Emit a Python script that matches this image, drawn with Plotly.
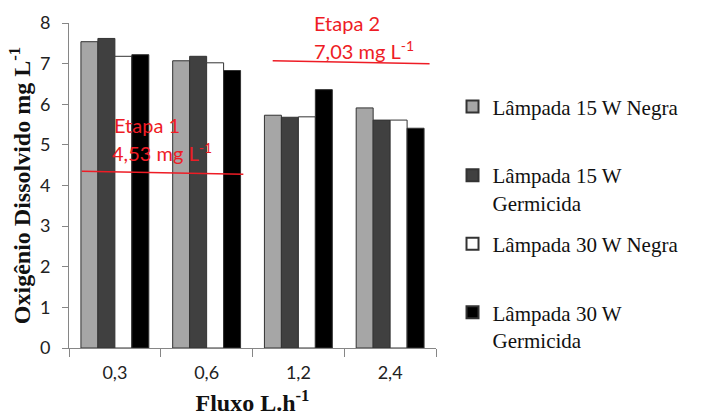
import plotly.graph_objects as go

categories = ["0,3", "0,6", "1,2", "2,4"]
series_names = [
    "Lâmpada 15 W Negra<br> ",
    "Lâmpada 15 W<br>Germicida",
    "Lâmpada 30 W Negra<br> ",
    "Lâmpada 30 W<br>Germicida",
]
neg15 = [7.54, 7.07, 5.73, 5.91]
germ15 = [7.62, 7.18, 5.68, 5.61]
neg30 = [7.18, 7.02, 5.69, 5.61]
germ30 = [7.22, 6.83, 6.36, 5.41]
series_values = [neg15, germ15, neg30, germ30]
colors = ["#A6A6A6", "#404040", "#FFFFFF", "#000000"]

etapa1_level = [4.35, 4.28]
etapa2_level = [7.07, 7.00]

fig = go.Figure()
for i, (name, vals, col) in enumerate(zip(series_names, series_values, colors)):
    fig.add_trace(go.Bar(
        x=categories, y=vals, name=name, legendgroup=str(i),
        marker=dict(color=col, line=dict(color="#333333", width=1)),
    ))

red = "#EE1C25"
fig.add_shape(type="line", xref="x", yref="y", x0=-0.36, x1=1.40,
              y0=etapa1_level[0], y1=etapa1_level[1], line=dict(color=red, width=1.5))
fig.add_shape(type="line", xref="x", yref="y", x0=1.72, x1=3.43,
              y0=etapa2_level[0], y1=etapa2_level[1], line=dict(color=red, width=1.5))

afont = dict(family="Lato, Open Sans, sans-serif", size=20, color=red)
fig.add_annotation(x=-0.03, y=5.5, xref="x", yref="y", text="Etapa 1", showarrow=False,
                   xanchor="left", yanchor="middle", font=afont)
fig.add_annotation(x=-0.05, y=4.83, xref="x", yref="y", text="4,53 mg L<sup>-1</sup>", showarrow=False,
                   xanchor="left", yanchor="middle", font=afont)
fig.add_annotation(x=2.15, y=8.0, xref="x", yref="y", text="Etapa 2", showarrow=False,
                   xanchor="left", yanchor="middle", font=afont)
fig.add_annotation(x=2.15, y=7.34, xref="x", yref="y", text="7,03 mg L<sup>-1</sup>", showarrow=False,
                   xanchor="left", yanchor="middle", font=afont)

axis_col = "#868686"
fig.update_layout(
    width=710, height=416,
    margin=dict(l=69, r=274, t=23, b=68),
    paper_bgcolor="white", plot_bgcolor="white",
    barmode="group", bargap=0.26, bargroupgap=0,
    showlegend=True,
    legend=dict(x=1.045, y=0.805, xanchor="left", yanchor="top",
                font=dict(family="Liberation Serif, serif", size=21, color="#111111"),
                valign="top", tracegroupgap=11, itemsizing="constant", traceorder="grouped",
                itemwidth=30),
    xaxis=dict(
        type="category", showline=True, linecolor=axis_col, linewidth=1,
        ticks="outside", tickson="boundaries", ticklen=8, tickcolor=axis_col,
        ticklabelstandoff=8,
        tickfont=dict(family="Lato, Open Sans, sans-serif", size=18, color="#222222"),
        title=dict(text="Fluxo L.h<sup>-1</sup>", standoff=14,
                   font=dict(family="Liberation Serif, serif", size=24, color="#111111", weight="bold")),
        showgrid=False, automargin=False,
    ),
    yaxis=dict(
        range=[0, 8], dtick=1, showline=True, linecolor=axis_col, linewidth=1,
        ticks="outside", ticklen=6, tickcolor=axis_col,
        ticklabelstandoff=8,
        tickfont=dict(family="Lato, Open Sans, sans-serif", size=18, color="#222222"),
        title=dict(text="Oxigênio Dissolvido mg L<sup>-1</sup>", standoff=2,
                   font=dict(family="Liberation Serif, serif", size=24, color="#111111", weight="bold")),
        showgrid=False, zeroline=False, automargin=False,
    ),
)

fig.write_html("out.html", config={"displayModeBar": False},
               post_script="document.body.style.margin='0';")
